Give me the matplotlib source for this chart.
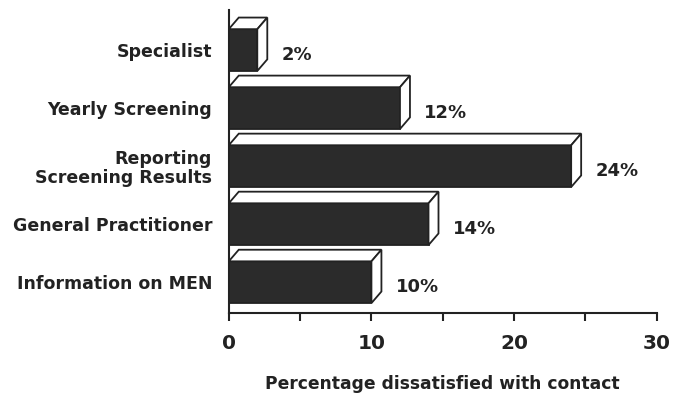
import matplotlib.pyplot as plt
from matplotlib.patches import Polygon, Rectangle

categories = ['Information on MEN', 'General Practitioner', 'Reporting\nScreening Results',
              'Yearly Screening', 'Specialist']
values = [10, 14, 24, 12, 2]

plt.rcParams['font.family'] = ['DejaVu Sans']
plt.rcParams['font.weight'] = 'bold'

fig = plt.figure(figsize=(6.87, 3.94), dpi=100)
ax = fig.add_axes([0.333, 0.2056, 0.623, 0.769])

h = 0.72      # bar height
dx, dy = 0.7, 0.2   # 3d depth
ink = '#222222'

for i, v in enumerate(values):
    y0, y1 = i - h / 2, i + h / 2
    ax.add_patch(Rectangle((0, y0), v, h, facecolor='#2b2b2b', edgecolor=ink, lw=1.3, zorder=3))
    ax.add_patch(Polygon([(0, y1), (v, y1), (v + dx, y1 + dy), (dx, y1 + dy)],
                         closed=True, facecolor='white', edgecolor=ink, lw=1.3, zorder=3))
    ax.add_patch(Polygon([(v, y0), (v, y1), (v + dx, y1 + dy), (v + dx, y0 + dy)],
                         closed=True, facecolor='white', edgecolor=ink, lw=1.3, zorder=3))
    ax.text(v + dx + 1.0, i - 0.09, f'{v}%', va='center', ha='left',
            fontsize=13, color=ink, fontweight='bold')

ax.set_xlim(0, 30)
ax.set_ylim(-0.53, 4.69)
ax.set_xticks([0, 10, 20, 30])
ax.set_xticks([5, 15, 25], minor=True)
ax.set_yticks(range(len(categories)))
ax.set_yticklabels(categories, fontsize=12.5, color=ink, linespacing=1.05)
ax.tick_params(axis='y', length=0, pad=12)
ax.tick_params(axis='x', which='both', length=6, width=1.5, color=ink,
               labelsize=14.5, labelcolor=ink, pad=9)
for lab in ax.get_xticklabels():
    lab.set_fontweight('bold')
ax.set_xlabel('Percentage dissatisfied with contact', fontsize=12.3, color=ink,
              fontweight='bold', labelpad=16)

ax.spines['top'].set_visible(False)
ax.spines['right'].set_visible(False)
ax.spines['left'].set_linewidth(1.5)
ax.spines['bottom'].set_linewidth(1.5)
ax.spines['left'].set_color(ink)
ax.spines['bottom'].set_color(ink)

fig.savefig('out.png', dpi=100)
